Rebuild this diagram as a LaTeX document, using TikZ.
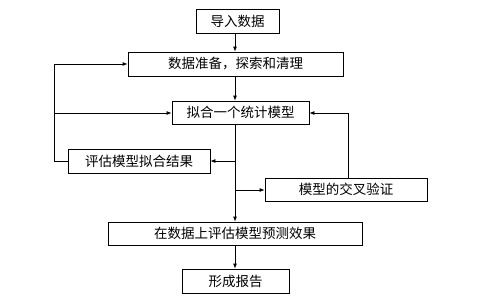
\documentclass[tikz,border=0pt]{standalone}
\usepackage{fontspec}
\newfontfamily\cjk{Noto Sans CJK SC}
\usetikzlibrary{arrows.meta}
\begin{document}
\begin{tikzpicture}[x=1pt,y=-1pt,
  box/.style={draw=black,line width=0.8pt,inner sep=0pt,font=\cjk\fontsize{13.5}{14}\selectfont},
  conn/.style={line width=0.8pt,-{Latex[length=5pt,width=4pt]}},
  ln/.style={line width=0.8pt}]
\useasboundingbox (0,0) rectangle (478,300);
\node[box,minimum width=83pt,minimum height=24pt] (b1) at (237.5,21) {导入数据};
\node[box,minimum width=215pt,minimum height=24pt] (b2) at (235.5,64) {数据准备，探索和清理};
\node[box,minimum width=137pt,minimum height=23pt] (b3) at (240.5,112.5) {拟合一个统计模型};
\node[box,minimum width=142pt,minimum height=24pt] (b4) at (139,161) {评估模型拟合结果};
\node[box,minimum width=162pt,minimum height=23pt] (b5) at (346,189.5) {模型的交叉验证};
\node[box,minimum width=254pt,minimum height=23pt] (b6) at (235,233.5) {在数据上评估模型预测效果};
\node[box,minimum width=107pt,minimum height=24pt] (b7) at (235.5,281) {形成报告};
\coordinate (C) at (235,0);
\coordinate (L1) at (54,161);
\coordinate (L2) at (54,64);
\coordinate (L3) at (54,113);
\coordinate (R1) at (348,113);
\coordinate (M1) at (235,161);
\coordinate (M2) at (235,190);
\draw[conn] (b1.south -| C) -- (b2.north -| C);
\draw[conn] (b2.south -| C) -- (b3.north -| C);
\draw[conn] (b3.south -| C) -- (b6.north -| C);
\draw[conn] (M1) -- (b4.east |- M1);
\draw[conn] (M2) -- (b5.west |- M2);
\draw[conn] (b4.west |- L1) -- (L1) -- (L2) -- (b2.west |- L2);
\draw[conn] (L3) -- (b3.west |- L3);
\draw[conn] (b5.north -| R1) -- (R1) -- (b3.east |- R1);
\draw[conn] (b6.south -| C) -- (b7.north -| C);
\end{tikzpicture}
\end{document}
